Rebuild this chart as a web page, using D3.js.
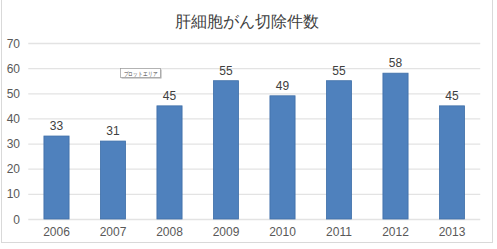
<!DOCTYPE html>
<head>
  <meta charset="utf-8">
  <script src="https://d3js.org/d3.v7.min.js"></script>
  <style>
    body { margin:0; background:#fff; }
    text { font-family: "Liberation Sans", Arial, sans-serif; }
  </style>
</head>
<body>
<svg width="497" height="249"></svg>
<script>

const years = ["2006","2007","2008","2009","2010","2011","2012","2013"]
const counts = [33, 31, 45, 55, 49, 55, 58, 45]
const yTicks = [0, 10, 20, 30, 40, 50, 60, 70]
const title = "肝細胞がん切除件数"

const svg = d3.select("svg")

svg.append("rect")
    .attr("x", 1.5).attr("y", -1)
    .attr("width", 491).attr("height", 243.5)
    .attr("fill", "#fff")
    .attr("stroke", "#d9d9d9")

const x = d3.scaleBand().domain(years).range([28.25, 480.25]).paddingInner(0.555).paddingOuter(0.2775)
const y = d3.scaleLinear().domain([0, 70]).range([219, 43])

// gridlines
svg.append("g")
  .selectAll("line")
  .data(yTicks)
  .enter().append("line")
    .attr("x1", 28.25).attr("x2", 480.25)
    .attr("y1", d => y(d) + 0.5).attr("y2", d => y(d) + 0.5)
    .attr("stroke", "#e3e3e3")
    .attr("stroke-width", 1.3)

// y labels
svg.append("g")
  .selectAll("text")
  .data(yTicks)
  .enter().append("text")
    .attr("x", 20).attr("y", d => y(d) + 4.5)
    .attr("text-anchor", "end")
    .attr("font-size", 12)
    .attr("fill", "#595959")
    .text(d => d)

// bars
svg.append("g")
  .selectAll("rect")
  .data(counts)
  .enter().append("rect")
    .attr("x", (d, i) => x(years[i]))
    .attr("y", d => y(d))
    .attr("width", x.bandwidth())
    .attr("height", d => y(0) - y(d))
    .attr("fill", "#4f81bd")
    .attr("stroke", "#3f6fa8")
    .attr("stroke-width", 0.8)

// value labels
svg.append("g")
  .selectAll("text")
  .data(counts)
  .enter().append("text")
    .attr("x", (d, i) => x(years[i]) + x.bandwidth() / 2)
    .attr("y", d => y(d) - 6)
    .attr("text-anchor", "middle")
    .attr("font-size", 12)
    .attr("fill", "#404040")
    .text(d => d)

// x labels
svg.append("g")
  .selectAll("text")
  .data(years)
  .enter().append("text")
    .attr("x", d => x(d) + x.bandwidth() / 2)
    .attr("y", 236)
    .attr("text-anchor", "middle")
    .attr("font-size", 12)
    .attr("fill", "#595959")
    .text(d => d)

svg.append("text")
    .attr("x", 246.5).attr("y", 27)
    .attr("text-anchor", "middle")
    .attr("font-size", 16)
    .attr("font-family", "Noto Sans CJK JP")
    .attr("fill", "#404040")
    .text(title)

// tooltip-like tag
const tip = svg.append("g").attr("transform", "translate(120.5,68.5)")
tip.append("rect").attr("x", 1).attr("y", 1).attr("width", 40).attr("height", 9).attr("fill", "#aaa")
tip.append("rect").attr("width", 40).attr("height", 9).attr("fill", "#fff").attr("stroke", "#999").attr("stroke-width", 0.7)
tip.append("text")
    .attr("x", 3).attr("y", 7)
    .attr("font-size", 6)
    .attr("font-family", "Noto Sans CJK JP")
    .attr("textLength", 34)
    .attr("lengthAdjust", "spacingAndGlyphs")
    .attr("fill", "#444")
    .text("プロット エリア")

</script>
</body>
